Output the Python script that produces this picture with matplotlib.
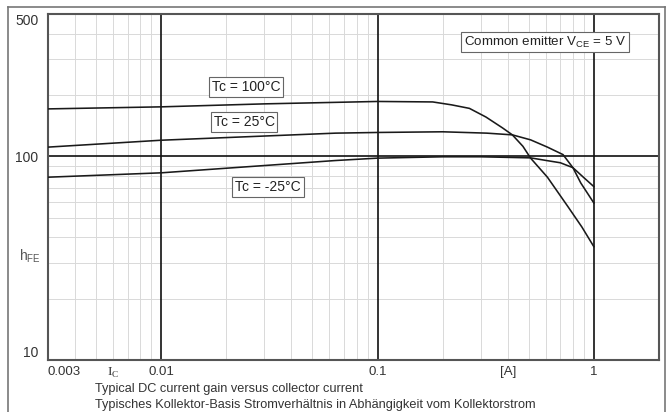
import matplotlib
matplotlib.use("Agg")
import matplotlib.pyplot as plt
from matplotlib.lines import Line2D
from matplotlib.ticker import LogLocator, NullFormatter

plt.rcParams['font.family'] = ['Liberation Sans', 'DejaVu Sans']

# ---- data ----
ic_100 = [0.003, 0.01, 0.03, 0.1, 0.18, 0.22, 0.266, 0.317, 0.378, 0.42, 0.47, 0.51,
          0.61, 0.76, 0.88, 1.0]
hfe_100 = [171, 175, 181, 186, 185, 179, 172, 156, 138, 127.5, 112, 98,
           79, 56.5, 45, 36]

ic_25 = [0.003, 0.01, 0.064, 0.1, 0.2, 0.32, 0.42, 0.51, 0.61, 0.72, 0.8, 0.87, 1.0]
hfe_25 = [111, 120, 130, 131, 132, 130, 127.5, 120.5, 111, 102, 88, 74, 59]

ic_m25 = [0.003, 0.01, 0.064, 0.1, 0.2, 0.3, 0.51, 0.6, 0.7, 0.8, 0.9, 1.0]
hfe_m25 = [79, 83, 95.4, 98, 99.5, 99.5, 98.3, 95.5, 93, 88, 78.5, 71]

x_tick_vals = [0.003, 0.006, 0.01, 0.1, 0.4, 1]
x_tick_labels = ['0.003', r'$\mathregular{I}_\mathregular{C}$', '0.01', '0.1', '[A]', '1']
y_tick_vals = [10, 100, 500]
y_tick_labels = ['10', '100', '500']
major_x = [0.01, 0.1, 1]
major_y = [100]

series_labels = ['Tc = 100°C', 'Tc = 25°C', 'Tc = -25°C']

W, H = 670, 412
fig = plt.figure(figsize=(W / 100, H / 100), dpi=100)
fig.patch.set_facecolor('white')


def fx(px):
    return px / W


def fy(py):
    return 1 - py / H


ax = fig.add_axes([fx(48), fy(360), fx(659) - fx(48), fy(14) - fy(360)])
ax.set_xscale('log')
ax.set_yscale('log')
ax.set_xlim(0.003, 2)
ax.set_ylim(10, 500)

ax.set_xticks(x_tick_vals, labels=x_tick_labels)
ax.set_yticks(y_tick_vals, labels=y_tick_labels)
ax.xaxis.set_minor_locator(LogLocator(base=10, subs=range(2, 10), numticks=20))
ax.yaxis.set_minor_locator(LogLocator(base=10, subs=range(2, 10), numticks=20))
ax.xaxis.set_minor_formatter(NullFormatter())
ax.yaxis.set_minor_formatter(NullFormatter())
ax.xaxis.remove_overlapping_locs = False
ax.yaxis.remove_overlapping_locs = False

ax.grid(which='minor', color='#d9d9d9', lw=0.7)
ax.grid(which='major', visible=False)
ax.tick_params(which='both', length=0)
ax.tick_params(axis='x', pad=4, labelsize=9.5, labelcolor='#333333')
ax.tick_params(axis='y', pad=7, labelsize=10, labelcolor='#333333')

xl = ax.get_xticklabels()
xl[0].set_ha('left')
xl[1].set_fontfamily(['Liberation Serif', 'DejaVu Serif'])
yl = ax.get_yticklabels()
yl[0].set_va('bottom')
yl[2].set_va('top')

for v in major_x:
    ax.axvline(v, color='#111111', lw=1.2, zorder=2)
for v in major_y:
    ax.axhline(v, color='#111111', lw=1.2, zorder=2)

for s in ax.spines.values():
    s.set_color('#555555')
    s.set_linewidth(1.5)

for xs, ys in [(ic_100, hfe_100), (ic_25, hfe_25), (ic_m25, hfe_m25)]:
    ax.plot(xs, ys, color='#1a1a1a', lw=1.15, zorder=3, solid_joinstyle='round')

box = dict(boxstyle='square,pad=0.2', fc='white', ec='#666666', lw=0.8)
for lab, (px, py) in zip(series_labels, [(246, 87), (244, 122), (268, 187)]):
    fig.text(fx(px), fy(py), lab, ha='center', va='center', fontsize=10,
             color='#222222', bbox=box)

fig.text(fx(545), fy(42), r'Common emitter V$_\mathregular{CE}$ = 5 V', ha='center',
         va='center', fontsize=9.6, color='#222222', bbox=box)

fig.text(fx(30), fy(256), r'h$_\mathregular{FE}$', ha='center', va='center',
         fontsize=10, color='#555555')

fig.text(fx(95), fy(389), 'Typical DC current gain versus collector current',
         ha='left', va='center', fontsize=9.2, color='#333333')
fig.text(fx(95), fy(405),
         'Typisches Kollektor-Basis Stromverhältnis in Abhängigkeit vom Kollektorstrom',
         ha='left', va='center', fontsize=9.2, color='#333333')

# outer frame
for xs_, ys_ in [([fx(8), fx(8)], [0, fy(7)]), ([fx(8), fx(665)], [fy(7), fy(7)]),
                 ([fx(665), fx(665)], [fy(7), 0])]:
    fig.add_artist(Line2D(xs_, ys_, transform=fig.transFigure, color='#777777', lw=1.2))

fig.savefig('out.png', dpi=100)
